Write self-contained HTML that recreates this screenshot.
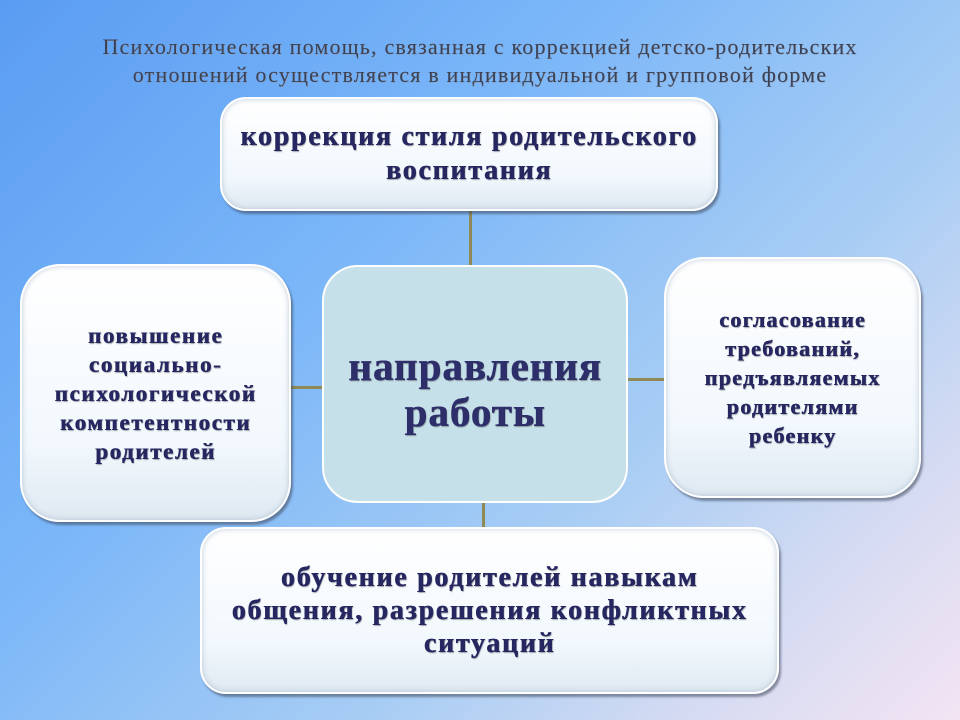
<!DOCTYPE html>
<html><head><meta charset="utf-8"><style>
body{margin:0;width:960px;height:720px;overflow:hidden;position:relative;
background:linear-gradient(135deg,#5a9cf2 0%,#7ab6f8 35%,#a8cdf4 65%,#d8dcf2 85%,#f3e4f3 100%);
font-family:"Liberation Serif","Noto Serif CJK SC",serif;}
.t{position:absolute;left:0;width:960px;top:33px;text-align:center;color:#3a4258;font-size:22px;line-height:28px;letter-spacing:1.2px;text-shadow:0.5px 0.5px 0 #8a94a8;}
.b{position:absolute;box-sizing:border-box;border:2px solid #fff;border-radius:26px;
background:linear-gradient(180deg,#ffffff 0%,#f2f8fd 70%,#dfe9f2 100%);
box-shadow:2px 3px 2px rgba(60,70,90,.55), inset 0 0 6px rgba(150,170,190,.6);
display:flex;align-items:center;justify-content:center;text-align:center;color:#262660;font-weight:bold;
text-shadow:0.6px 0 0 #262660,1px 1px 1px rgba(0,0,0,.35);}
.l{position:absolute;background:#8f8a55;}
</style></head><body>
<div class="t">Психологическая помощь, связанная с коррекцией детско-родительских<br>отношений осуществляется в индивидуальной и групповой форме</div>
<div class="l" style="left:469px;top:210px;width:3px;height:57px"></div>
<div class="l" style="left:290px;top:386px;width:34px;height:3px"></div>
<div class="l" style="left:626px;top:378px;width:40px;height:3px"></div>
<div class="l" style="left:482px;top:500px;width:3px;height:30px"></div>
<div class="b" style="left:220px;top:97px;width:498px;height:114px;font-size:28px;line-height:34px;letter-spacing:1.7px">коррекция стиля родительского<br>воспитания</div>
<div class="b" style="left:20px;top:264px;width:271px;height:258px;border-radius:40px;font-size:23px;line-height:29px;letter-spacing:1.6px">повышение<br>социально-<br>психологической<br>компетентности<br>родителей</div>
<div class="b" style="left:322px;top:265px;width:306px;height:238px;border-radius:36px;background:#c6e0e9;box-shadow:none;border-color:#fff;font-size:41px;line-height:46px;letter-spacing:1px;color:#2e2e6a;padding-top:10px">направления<br>работы</div>
<div class="b" style="left:664px;top:257px;width:257px;height:241px;border-radius:40px;font-size:22px;line-height:29px;letter-spacing:1.3px">согласование<br>требований,<br>предъявляемых<br>родителями<br>ребенку</div>
<div class="b" style="left:200px;top:527px;width:579px;height:167px;font-size:28px;line-height:33px;letter-spacing:1.7px">обучение родителей навыкам<br>общения, разрешения конфликтных<br>ситуаций</div>
</body></html>
